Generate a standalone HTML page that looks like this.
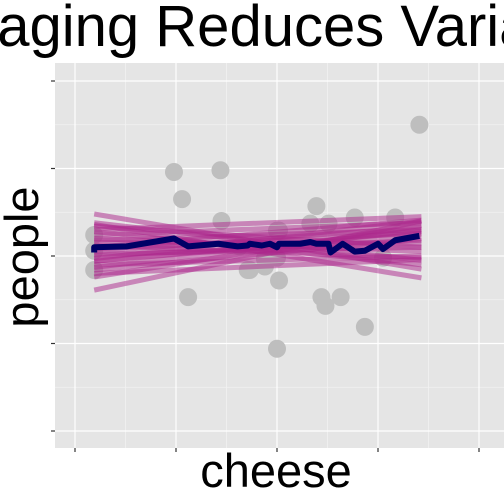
<!DOCTYPE html>
<html><head><meta charset="utf-8"><style>html,body{margin:0;padding:0;background:#fff}svg{display:block}</style></head>
<body>
<svg id="c" width="504" height="504" xmlns="http://www.w3.org/2000/svg">
<text x="252" y="46" text-anchor="middle" font-family="Liberation Sans, sans-serif" font-size="58" fill="#000">Averaging Reduces Variance</text>
<rect x="55" y="63" width="449" height="385" fill="#e5e5e5"/>
<g id="grid"></g>
<g id="pts"></g>
<g id="lines"></g>
<g id="mean"></g>
<text x="276" y="487" text-anchor="middle" font-family="Liberation Sans, sans-serif" font-size="47">cheese</text>
<text transform="translate(38,257) rotate(-90)" text-anchor="middle" font-family="Liberation Sans, sans-serif" font-size="47">people</text>
</svg>
<script>
const xTicks=[0,1,2,3,4];
const yTicks=[0,1,2,3,4];
const pointX=[0.19,0.19,0.19,0.98,1.44,1.06,1.45,1.12,1.71,2.0,2.02,1.88,2.0,3.41,2.39,2.33,2.51,2.77,3.17,2.0,2.02,2.44,2.48,2.63,2.87,3.05,1.63,1.88,1.73];
const pointY=[2.24,2.06,1.84,2.96,2.98,2.65,2.4,1.53,1.84,0.94,2.29,1.88,1.98,3.5,2.57,2.37,2.37,2.44,2.44,2.29,1.72,1.53,1.43,1.53,1.19,1.98,2.11,1.97,1.84];
const lineLeft=[2.48,2.38,2.34,2.28,2.24,2.2,2.18,2.15,2.12,2.1,2.08,2.05,2.02,2.0,1.97,1.94,1.9,1.87,1.84,1.8,1.76,1.61,2.36,2.3,1.94];
const lineRight=[1.85,1.95,2.1,1.9,2.38,2.05,2.3,2.15,1.98,2.41,2.26,2.33,2.1,2.18,2.4,2.25,2.0,2.3,2.2,1.96,2.35,2.4,1.75,2.45,2.28];
const meanX=[0.19,0.19,0.51,0.98,1.12,1.42,1.61,1.71,1.73,1.85,1.93,2.0,2.02,2.23,2.33,2.39,2.51,2.53,2.65,2.77,2.87,3.0,3.05,3.17,3.41];
const meanY=[2.04,2.1,2.11,2.2,2.11,2.14,2.11,2.12,2.14,2.12,2.14,2.1,2.14,2.14,2.16,2.14,2.14,2.04,2.14,2.05,2.06,2.14,2.08,2.18,2.23];
const NS='http://www.w3.org/2000/svg';
const sx=v=>75+v*101, sy=v=>431-v*87.5;
function mk(t,a,p){const e=document.createElementNS(NS,t);for(const k in a)e.setAttribute(k,a[k]);p.appendChild(e);return e;}
const g=document.getElementById('grid');
[0.5,1.5,2.5,3.5,4.5].forEach(v=>{if(sx(v)<504){const e=mk('line',{x1:sx(v),x2:sx(v),y1:63,y2:448,stroke:'#f2f2f2','stroke-width':0.8},g);

}});
[0.5,1.5,2.5,3.5].forEach(v=>{const e=mk('line',{x1:55,x2:504,y1:sy(v),y2:sy(v),stroke:'#f2f2f2','stroke-width':0.8},g);

});
xTicks.forEach(v=>{const e=mk('line',{x1:sx(v),x2:sx(v),y1:63,y2:448,stroke:'#fff','stroke-width':1.2},g);


const t=mk('line',{x1:sx(v),x2:sx(v),y1:448,y2:452,stroke:'#333','stroke-width':1.2},g);

});
yTicks.forEach(v=>{const e=mk('line',{x1:55,x2:504,y1:sy(v),y2:sy(v),stroke:'#fff','stroke-width':1.2},g);


const t=mk('line',{x1:51,x2:55,y1:sy(v),y2:sy(v),stroke:'#333','stroke-width':1.2},g);

});
const pg=document.getElementById('pts');
pointX.forEach((x,i)=>{const c=mk('circle',{cx:sx(x),cy:sy(pointY[i]),r:9,fill:'#bebebe'},pg);

});
const lg=document.getElementById('lines');
lineLeft.forEach((l,i)=>{const e=mk('line',{x1:sx(0.19),x2:sx(3.43),y1:sy(l),y2:sy(lineRight[i]),stroke:'rgba(172,38,140,0.5)','stroke-width':5},lg);

});
const mg=document.getElementById('mean');
const pl=mk('polyline',{points:meanX.map((x,i)=>sx(x)+','+sy(meanY[i])).join(' '),fill:'none',stroke:'#000066','stroke-width':6,'stroke-linejoin':'round'},mg);


</script>
</body></html>
